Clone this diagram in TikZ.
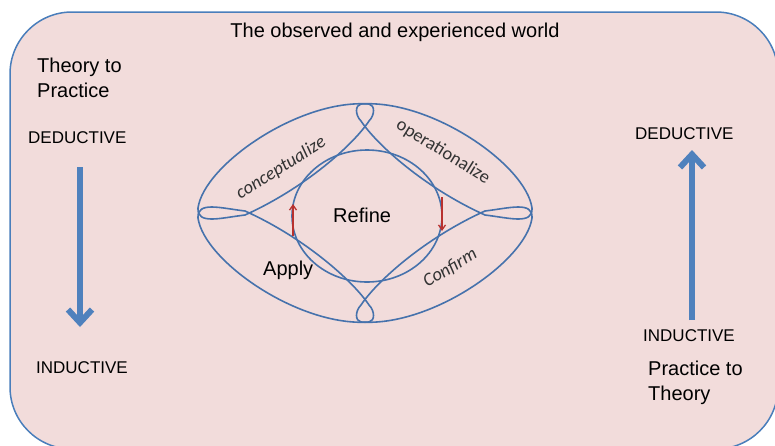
\documentclass[tikz,border=0pt]{standalone}
\usepackage{fontspec}
\setmainfont{Liberation Sans}
\newfontfamily\calib{Carlito}
\usetikzlibrary{arrows.meta}
\definecolor{bgpink}{HTML}{F2DCDB}
\definecolor{frameblue}{HTML}{4A7EBB}
\definecolor{petalblue}{HTML}{4672AC}
\definecolor{arrowblue}{HTML}{4F81BD}
\definecolor{arrowred}{HTML}{B8312F}
\definecolor{wordgray}{HTML}{333333}
\begin{document}
\begin{tikzpicture}[x=1pt,y=-1pt,
  lbl/.style={font=\fontsize{20}{25}\selectfont, inner sep=0pt},
  caps/.style={font=\fontsize{17}{20}\selectfont, inner sep=0pt},
  word/.style={font=\calib\itshape\fontsize{18.5}{22}\selectfont, text=wordgray, inner sep=0pt},
  bigarrow/.style={draw=arrowblue, line width=6pt, -{Straight Barb[length=13pt,width=24pt]}},
  redarrow/.style={draw=arrowred, line width=1.3pt, -{Straight Barb[length=5pt,width=7pt]}},
  petalline/.style={draw=petalblue, line width=1.6pt},
  petal/.pic={\draw[petalline] (-167,-5) .. controls (-161,-48) and (-66,-114) .. (4,-109)
      .. controls (10,-108) and (10,-98) .. (4,-92)
      .. controls (-12,-68) and (-60,-25) .. (-120,2)
      .. controls (-145,5) and (-168,12) .. cycle;}
]
\useasboundingbox (0,0) rectangle (775,445);
\begin{scope}
  \clip (0,0) rectangle (775,445);
  \draw[frameblue, line width=1.5pt, fill=bgpink, rounded corners=62pt] (10,12) rectangle (778,449);
\end{scope}

% central cycle
\draw[petalline] (367,216) ellipse [x radius=75, y radius=66];
\pic at (365,213) {petal};
\pic[xscale=-1] at (365,213) {petal};
\pic[yscale=-1] at (365,213) {petal};
\pic[xscale=-1,yscale=-1] at (365,213) {petal};

\node[lbl, anchor=base west] (refine) at (333,222) {Refine};
\node[lbl, anchor=base west] (apply) at (263,275) {Apply};
\node[word, rotate=32] (concept) at (281,168) {conceptualize};
\node[word, rotate=-32] (oper) at (443,152) {\upshape operationalize};
\node[word, rotate=31] (confirm) at (450,268) {Confirm};

\coordinate (ru1) at (293,236);
\coordinate (ru2) at (293,204);
\coordinate (rd1) at (442,197);
\coordinate (rd2) at (442,231);
\draw[redarrow] (ru1) -- (ru2);
\draw[redarrow] (rd1) -- (rd2);

% titles
\node[lbl, anchor=base] (title) at (395,37) {The observed and experienced world};
\node[lbl, anchor=base west] (tp1) at (37,72) {Theory to};
\node[lbl, anchor=base west] (tp2) at (37,97) {Practice};
\node[lbl, anchor=base west] (pt1) at (648,375) {Practice to};
\node[lbl, anchor=base west] (pt2) at (648,400) {Theory};

\node[caps, anchor=base west] (ldeduct) at (28,143) {DEDUCTIVE};
\node[caps, anchor=base west] (linduct) at (36,373) {INDUCTIVE};
\node[caps, anchor=base west] (rdeduct) at (635,139) {DEDUCTIVE};
\node[caps, anchor=base west] (rinduct) at (643,341) {INDUCTIVE};

\coordinate (la1) at (80,167);
\coordinate (la2) at (80,327);
\coordinate (ra1) at (692,320);
\coordinate (ra2) at (692,150);
\draw[bigarrow] (la1) -- (la2);
\draw[bigarrow] (ra1) -- (ra2);
\end{tikzpicture}
\end{document}
